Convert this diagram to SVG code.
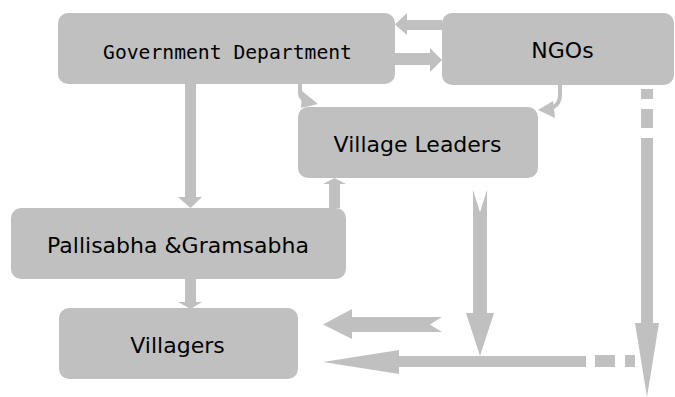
<svg xmlns="http://www.w3.org/2000/svg" width="675" height="397" viewBox="0 0 675 397">
  <style>
    .box { fill: #c0c0c0; }
    .arrow { fill: #c0c0c0; stroke: none; }
    .curve { fill: none; stroke: #c0c0c0; stroke-width: 4; }
    .label { font-family: "DejaVu Sans", Verdana, sans-serif; font-size: 22px; fill: #000; text-anchor: middle; }
    .mono { font-family: "DejaVu Sans Mono", "Liberation Mono", monospace; font-size: 19.7px; fill: #000; text-anchor: middle; }
  </style>
  <rect width="675" height="397" fill="#fff"/>

  <!-- connectors -->
  <g id="connectors">
    <!-- Government Department -> Pallisabha & Gramsabha -->
    <polygon class="arrow" points="185,84 196,84 196,197 202,197 190.5,208 178,197 185,197"/>
    <!-- Pallisabha & Gramsabha -> Villagers -->
    <polygon class="arrow" points="185,279 196,279 196,302 202,302 190.5,309 178,302 185,302"/>
    <!-- Pallisabha & Gramsabha -> Village Leaders -->
    <polygon class="arrow" points="329,208 340,208 340,184 346,184 334.5,178 323,184 329,184"/>
    <!-- NGOs -> Government Department -->
    <polygon class="arrow" points="442,20 407,20 407,13 395,24.5 407,35 407,30 442,30"/>
    <!-- Government Department -> NGOs -->
    <polygon class="arrow" points="395,53 430,53 430,48 442,60 430,72 430,65 395,65"/>
    <!-- Government Department -> Village Leaders (hooked) -->
    <path class="curve" d="M300,84 L300,93 Q300,98 306,101"/>
    <polygon class="arrow" points="302,91 318,104 301,108"/>
    <!-- NGOs -> Village Leaders (hooked) -->
    <path class="curve" d="M560,85 L560,95 Q560,104 552,108"/>
    <polygon class="arrow" points="538,110 553,101 555,118"/>
    <!-- NGOs -> Villagers, dashed vertical -->
    <rect class="arrow" x="641" y="89" width="12" height="10"/>
    <rect class="arrow" x="641" y="109" width="12" height="19"/>
    <polygon class="arrow" points="641,138 653,138 653,323 659,323 647,397 635,323 641,323"/>
    <!-- Village Leaders -> Villagers, vertical with notched tail -->
    <polygon class="arrow" points="473,190 480,212 487,190 487,313 494,313 480,356 466,313 473,313"/>
    <!-- upper horizontal arrow to Villagers, notched tail -->
    <polygon class="arrow" points="323,324.5 352,309 352,317 442,317 430,324.5 442,332 352,332 352,339"/>
    <!-- lower horizontal arrow to Villagers -->
    <polygon class="arrow" points="323,362 399,350 399,356 586,356 586,367 399,367 399,374"/>
    <rect class="arrow" x="595" y="355" width="20" height="12"/>
    <rect class="arrow" x="625" y="355" width="10" height="12"/>
  </g>

  <!-- nodes -->
  <g id="government-department">
    <rect class="box" x="58" y="13" width="337" height="71" rx="10"/>
    <text class="mono" x="227.5" y="58.5">Government Department</text>
  </g>
  <g id="ngos">
    <rect class="box" x="442" y="13" width="232" height="72" rx="10"/>
    <text class="label" x="562.5" y="58" font-size="23">NGOs</text>
  </g>
  <g id="village-leaders">
    <rect class="box" x="298" y="107" width="240" height="71" rx="10"/>
    <text class="label" x="417.5" y="152">Village Leaders</text>
  </g>
  <g id="pallisabha-gramsabha">
    <rect class="box" x="11" y="208" width="335" height="71" rx="10"/>
    <text class="label" x="178" y="253" font-size="21.3">Pallisabha &amp;Gramsabha</text>
  </g>
  <g id="villagers">
    <rect class="box" x="59" y="308" width="239" height="71" rx="10"/>
    <text class="label" x="177.5" y="353">Villagers</text>
  </g>
</svg>
